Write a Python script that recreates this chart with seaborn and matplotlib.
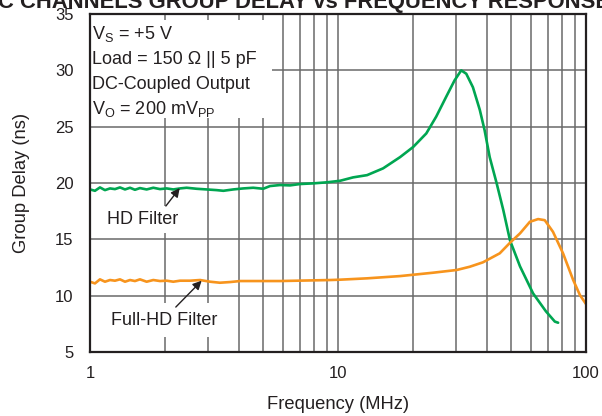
import matplotlib
matplotlib.use('Agg')
import matplotlib.pyplot as plt
from matplotlib.patches import Rectangle
from matplotlib.ticker import NullFormatter
import pandas as pd
import seaborn as sns

# HD filter group delay
hd_freq = [1.00, 1.047, 1.097, 1.149, 1.204, 1.261, 1.321, 1.384, 1.450, 1.518,
           1.590, 1.692, 1.800, 1.915, 2.038, 2.167, 2.307, 2.453, 2.690, 2.954,
           3.239, 3.449, 3.780, 4.150, 4.550, 4.996, 5.318, 5.834, 6.41, 7.03,
           7.96, 9.0, 10.2, 11.5, 13.1, 15.2, 17.8, 20.1, 22.7, 24.9,
           27.3, 29.5, 31.4, 32.9, 35.0, 37.3, 39.0, 40.9, 43.6, 46.4,
           49.4, 54.2, 61.2, 69.0, 74.9, 77.2]
hd_delay = [19.43, 19.31, 19.61, 19.37, 19.52, 19.46, 19.61, 19.43, 19.58, 19.40,
            19.55, 19.43, 19.58, 19.46, 19.52, 19.43, 19.52, 19.58, 19.49, 19.43,
            19.37, 19.31, 19.43, 19.52, 19.58, 19.49, 19.73, 19.82, 19.79, 19.91,
            19.97, 20.06, 20.2, 20.5, 20.7, 21.3, 22.3, 23.2, 24.4, 25.9,
            27.65, 29.1, 30.0, 29.7, 28.5, 26.5, 24.7, 22.3, 20.0, 17.6,
            14.9, 12.6, 10.2, 8.6, 7.7, 7.6]

# Full-HD filter group delay
fhd_freq = [1.00, 1.047, 1.097, 1.149, 1.204, 1.261, 1.321, 1.384, 1.450, 1.518,
            1.590, 1.692, 1.800, 1.915, 2.038, 2.167, 2.307, 2.53, 2.78, 3.05,
            3.34, 3.67, 4.03, 4.55, 5.16, 5.83, 6.81, 7.96, 9.3, 10.2,
            13.1, 17.8, 24.2, 30.1, 34.0, 38.4, 44.9, 49.4, 54.2, 59.4,
            64.1, 68.2, 73.6, 80.8, 88.8, 94.5, 100.0]
fhd_delay = [11.24, 11.09, 11.45, 11.24, 11.39, 11.33, 11.45, 11.24, 11.39, 11.30,
             11.45, 11.24, 11.39, 11.30, 11.33, 11.24, 11.33, 11.33, 11.39, 11.24,
             11.15, 11.21, 11.30, 11.30, 11.30, 11.30, 11.33, 11.36, 11.39, 11.42,
             11.54, 11.74, 12.04, 12.28, 12.57, 12.96, 13.76, 14.7, 15.53, 16.56,
             16.8, 16.7, 15.67, 13.76, 11.39, 10.06, 9.26]

df = pd.concat([
    pd.DataFrame({'freq': hd_freq, 'delay': hd_delay, 'filter': 'HD Filter'}),
    pd.DataFrame({'freq': fhd_freq, 'delay': fhd_delay, 'filter': 'Full-HD Filter'}),
])

sns.set_theme(style='white')
plt.rcParams['font.family'] = ['Liberation Sans', 'DejaVu Sans']
plt.rcParams['mathtext.default'] = 'regular'
ink = '#231f20'

fig, ax = plt.subplots(figsize=(6.02, 4.16), dpi=100)
fig.subplots_adjust(left=0.1495, right=0.9734, top=0.9663, bottom=0.1538)

sns.lineplot(data=df, x='freq', y='delay', hue='filter', sort=False,
             palette={'HD Filter': '#00a651', 'Full-HD Filter': '#f7941d'},
             linewidth=1.9, legend=False, ax=ax, zorder=3)

ax.set_xscale('log')
ax.set_xlim(1, 100)
ax.set_ylim(5, 35)
ax.set_xticks([1, 10, 100], labels=['1', '10', '100'])
minor = [2, 3, 4, 5, 6, 7, 8, 9, 20, 30, 40, 50, 60, 70, 80, 90]
ax.set_xticks(minor, minor=True)
ax.xaxis.set_minor_formatter(NullFormatter())
ax.set_yticks(range(5, 36, 5))
ax.tick_params(which='both', length=0, labelsize=12, labelcolor=ink)
ax.tick_params(axis='x', pad=10)
ax.tick_params(axis='y', pad=12)

ax.set_axisbelow(True)
ax.grid(which='both', color='#6a6a6a', linewidth=1.1)
for s in ax.spines.values():
    s.set_color(ink)
    s.set_linewidth(1.6)
    s.set_zorder(5)

ax.set_xlabel('Frequency (MHz)', fontsize=13.2, color=ink)
ax.xaxis.set_label_coords(0.5, -0.13)
ax.set_ylabel('Group Delay (ns)', fontsize=13.2, color=ink)
ax.yaxis.set_label_coords(-0.121, 0.5)

# white panel behind the conditions text
ax.add_patch(Rectangle((0, 0.692), 0.367, 0.290, transform=ax.transAxes,
                       facecolor='white', edgecolor='none', zorder=1))
cond = ['V$_S$ = +5 V', 'Load = 150 Ω || 5 pF', 'DC-Coupled Output',
        'V$_O$ = 200 mV$_{PP}$']
for i, line in enumerate(cond):
    ax.text(0.005, 0.926 - i * 0.074, line, transform=ax.transAxes,
            fontsize=13, color=ink, va='baseline', ha='left', zorder=4)

# curve labels with white boxes, arrows drawn separately
ax.text(0.107, 0.392, 'HD Filter', transform=ax.transAxes, ha='center',
        va='center', fontsize=13, color=ink, zorder=4,
        bbox=dict(boxstyle='square,pad=0.3', fc='white', ec='none'))
ax.text(0.150, 0.0947, 'Full-HD Filter', transform=ax.transAxes, ha='center',
        va='center', fontsize=13, color=ink, zorder=4,
        bbox=dict(boxstyle='square,pad=0.45', fc='white', ec='none'))

arrow = dict(arrowstyle='-|>', color=ink, lw=1.0, mutation_scale=13,
             shrinkA=0, shrinkB=0)
ax.annotate('', xy=(2.3, 19.55), xytext=(0.153, 0.432),
            textcoords='axes fraction', arrowprops=arrow, zorder=6)
ax.annotate('', xy=(2.82, 11.33), xytext=(0.173, 0.133),
            textcoords='axes fraction', arrowprops=arrow, zorder=6)

fig.text(-0.003, 0.981, 'C CHANNELS GROUP DELAY vs FREQUENCY RESPONSE',
         fontsize=15.8, fontweight='bold', color=ink, ha='left', va='baseline')

plt.savefig('out.png', dpi=100)
